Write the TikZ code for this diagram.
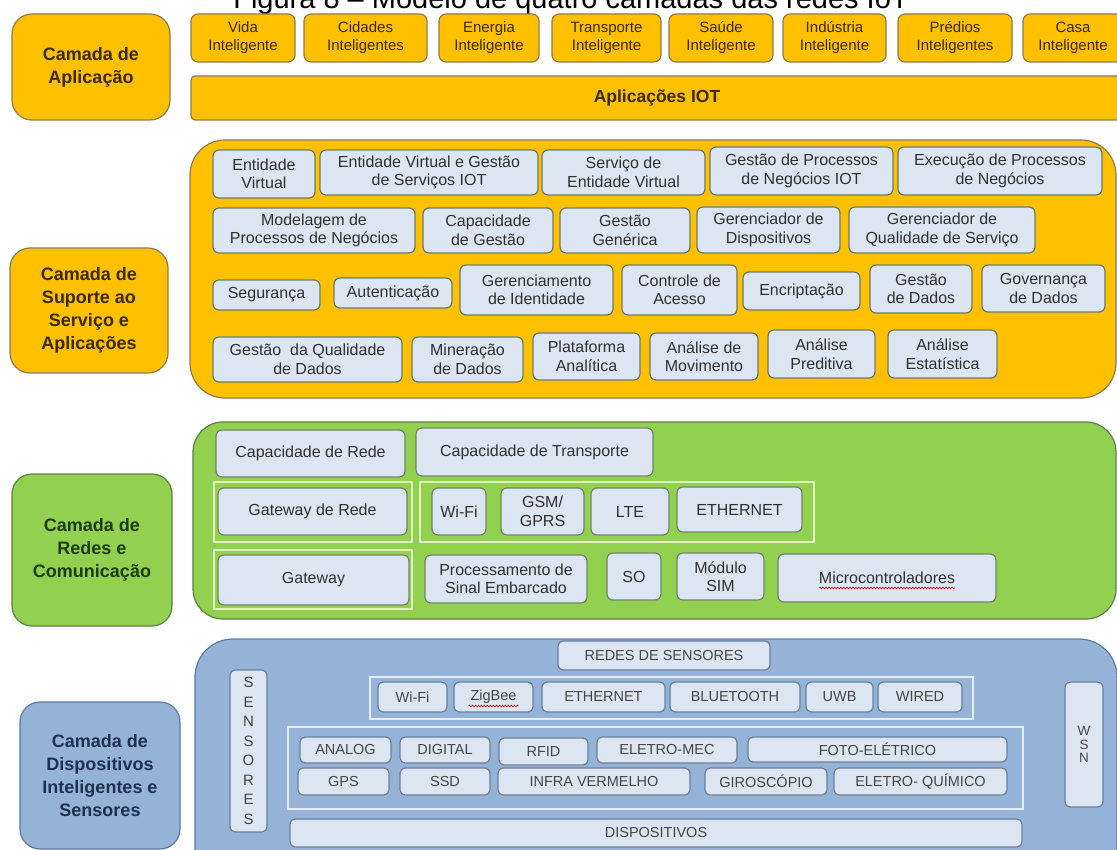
\documentclass[tikz,border=0pt]{standalone}
\usepackage{fontspec}
\setmainfont{Liberation Sans}
\usetikzlibrary{calc,decorations.pathmorphing}
\definecolor{orangeF}{HTML}{FFC000}
\definecolor{orangeD}{HTML}{8C7B4B}
\definecolor{brownT}{HTML}{3A2A00}
\definecolor{greenF}{HTML}{92D050}
\definecolor{greenD}{HTML}{5D7F45}
\definecolor{greenT}{HTML}{1F3A0F}
\definecolor{greenG}{HTML}{E4F2C0}
\definecolor{blueF}{HTML}{95B3D7}
\definecolor{blueD}{HTML}{5B7BA3}
\definecolor{blueT}{HTML}{1F3050}
\definecolor{blueG}{HTML}{E3ECF7}
\definecolor{itemF}{HTML}{DCE6F2}
\definecolor{itemD}{HTML}{6A7A6A}
\definecolor{itemB}{HTML}{6A7F99}
\definecolor{textD}{HTML}{303030}
\definecolor{textG}{HTML}{454545}
\newcommand\mkbox[7]{%
  \node[#1, minimum width={#5-#3}, minimum height={#6-#4}] (#2) at ({(#3+#5)/2},{(#4+#6)/2}) {#7};}
\tikzset{
  basebox/.style={draw, align=center, inner sep=0pt, line width=1.2pt, rectangle},
  lbl/.style={basebox, rounded corners=20pt, font=\fontsize{18}{23}\selectfont\bfseries},
  applbl/.style={lbl, fill=orangeF, draw=orangeD, text=brownT},
  netlbl/.style={lbl, fill=greenF, draw=greenD, text=greenT},
  devlbl/.style={lbl, fill=blueF, draw=blueD, text=blueT},
  appitem/.style={basebox, fill=orangeF, draw=orangeD, rounded corners=7pt, font=\fontsize{15}{18}\selectfont, text=brownT},
  sitem/.style={basebox, fill=itemF, draw=itemD, rounded corners=6pt, font=\fontsize{16}{18.5}\selectfont, text=textD},
  nitem/.style={sitem, draw=greenD!60!black!70},
  ditem/.style={basebox, fill=itemF, draw=itemB, rounded corners=5pt, font=\fontsize{14.5}{17}\selectfont, text=textG},
  ngroup/.style={basebox, draw=greenG, line width=1.6pt},
  dgroup/.style={basebox, draw=blueG, line width=1.6pt},
  squig/.style={red!85!black, line width=0.6pt, decorate, decoration={snake, amplitude=0.9pt, segment length=3pt}}
}
\begin{document}
\begin{tikzpicture}[x=1pt,y=-1pt]
\useasboundingbox (0,0) rectangle (1117,850);
\clip (0,0) rectangle (1117,850);
\fill[white] (0,0) rectangle (1117,850);
% title (cut at top)
\node[anchor=base, inner sep=0pt, font=\fontsize{29}{34}\selectfont] (title) at (571,8.5) {Figura 8 – Modelo de quatro camadas das redes IoT};
% layer labels
\mkbox{applbl}{appL}{12}{14}{170}{120}{Camada de\\Aplicação}
\mkbox{applbl}{supL}{10}{248}{168}{373}{Camada de\\Suporte ao\\Serviço e\\Aplicações}
\mkbox{netlbl}{netL}{12}{474}{172}{626}{Camada de\\Redes e\\Comunicação}
\mkbox{devlbl}{devL}{20}{702}{180}{849}{Camada de\\Dispositivos\\Inteligentes e\\Sensores}
% application layer
\mkbox{appitem}{a1}{191}{14}{295}{62}{Vida\\Inteligente}
\mkbox{appitem}{a2}{304}{14}{427}{62}{Cidades\\Inteligentes}
\mkbox{appitem}{a3}{439}{14}{539}{62}{Energia\\Inteligente}
\mkbox{appitem}{a4}{552}{14}{661}{62}{Transporte\\Inteligente}
\mkbox{appitem}{a5}{669}{14}{773}{62}{Saúde\\Inteligente}
\mkbox{appitem}{a6}{783}{14}{886}{62}{Indústria\\Inteligente}
\mkbox{appitem}{a7}{898}{14}{1012}{62}{Prédios\\Inteligentes}
\mkbox{appitem}{a8}{1023}{14}{1123}{62}{Casa\\Inteligente}
\mkbox{appitem, rounded corners=4pt, font=\fontsize{17.5}{20}\selectfont\bfseries}{aiot}{191}{76}{1123}{120}{Aplicações IOT}
% support layer
\mkbox{basebox, fill=orangeF, draw=orangeD, rounded corners=35pt}{supB}{190}{140}{1116}{398}{}
\mkbox{sitem}{s1}{213}{150}{315}{198}{Entidade\\Virtual}
\mkbox{sitem}{s2}{320}{150}{538}{195}{Entidade Virtual e Gestão\\de Serviços IOT}
\mkbox{sitem}{s3}{542}{150}{705}{195}{Serviço de\\Entidade Virtual}
\mkbox{sitem}{s4}{710}{147}{893}{195}{Gestão de Processos\\de Negócios IOT}
\mkbox{sitem}{s5}{898}{147}{1102}{195}{Execução de Processos\\de Negócios}
\mkbox{sitem}{s6}{213}{208}{415}{253}{Modelagem de\\Processos de Negócios}
\mkbox{sitem}{s7}{423}{208}{553}{253}{Capacidade\\de Gestão}
\mkbox{sitem}{s8}{560}{208}{690}{253}{Gestão\\Genérica}
\mkbox{sitem}{s9}{697}{207}{840}{253}{Gerenciador de\\Dispositivos}
\mkbox{sitem}{s10}{849}{207}{1035}{253}{Gerenciador de\\Qualidade de Serviço}
\mkbox{sitem}{s11}{213}{280}{320}{310}{Segurança}
\mkbox{sitem}{s12}{334}{278}{452}{308}{Autenticação}
\mkbox{sitem}{s13}{460}{265}{613}{315}{Gerenciamento\\de Identidade}
\mkbox{sitem}{s14}{622}{265}{737}{315}{Controle de\\Acesso}
\mkbox{sitem}{s15}{743}{272}{860}{310}{Encriptação}
\mkbox{sitem}{s16}{870}{265}{972}{313}{Gestão\\de Dados}
\mkbox{sitem}{s17}{982}{265}{1105}{312}{Governança\\de Dados}
\mkbox{sitem}{s18}{213}{337}{402}{382}{Gestão\ \ da Qualidade\\de Dados}
\mkbox{sitem}{s19}{412}{337}{523}{382}{Mineração\\de Dados}
\mkbox{sitem}{s20}{533}{333}{640}{380}{Plataforma\\Analítica}
\mkbox{sitem}{s21}{650}{333}{758}{380}{Análise de\\Movimento}
\mkbox{sitem}{s22}{768}{330}{875}{378}{Análise\\Preditiva}
\mkbox{sitem}{s23}{888}{330}{997}{378}{Análise\\Estatística}
% network layer
\mkbox{basebox, fill=greenF, draw=greenD, rounded corners=30pt}{netB}{193}{422}{1116}{619}{}
\mkbox{nitem}{n1}{216}{430}{405}{477}{Capacidade de Rede}
\mkbox{nitem}{n2}{416}{428}{653}{476}{Capacidade de Transporte}
\mkbox{ngroup}{g1}{214}{482}{412}{542}{}
\mkbox{ngroup}{g2}{420}{482}{814}{542}{}
\mkbox{ngroup}{g3}{214}{550}{412}{609}{}
\mkbox{nitem}{n3}{218}{488}{407}{535}{Gateway de Rede}
\mkbox{nitem}{n4}{432}{488}{486}{535}{Wi-Fi}
\mkbox{nitem}{n5}{501}{488}{584}{535}{GSM/\\GPRS}
\mkbox{nitem}{n6}{591}{488}{669}{535}{LTE}
\mkbox{nitem}{n7}{677}{487}{802}{532}{ETHERNET}
\mkbox{nitem}{n8}{218}{555}{409}{605}{Gateway}
\mkbox{nitem}{n9}{425}{555}{587}{603}{Processamento de\\Sinal Embarcado}
\mkbox{nitem}{n10}{607}{553}{661}{600}{SO}
\mkbox{nitem}{n11}{677}{553}{764}{600}{Módulo\\SIM}
\mkbox{nitem}{n12}{778}{554}{996}{602}{Microcontroladores}
\draw[squig] ($(n12.center)+(-68,10)$) -- ($(n12.center)+(68,10)$);
% device layer
\mkbox{basebox, fill=blueF, draw=blueD, rounded corners=38pt}{devB}{195}{639}{1117}{890}{}
\mkbox{ditem}{d0}{558}{641}{770}{670}{REDES DE SENSORES}
\mkbox{dgroup}{dg1}{370}{677}{973}{719}{}
\mkbox{dgroup}{dg2}{288}{727}{1023}{809}{}
\mkbox{ditem}{d1}{378}{682}{447}{712}{Wi-Fi}
\mkbox{ditem}{d2}{454}{682}{533}{712}{ZigBee}
\mkbox{ditem}{d3}{542}{682}{665}{712}{ETHERNET}
\mkbox{ditem}{d4}{670}{682}{800}{712}{BLUETOOTH}
\mkbox{ditem}{d5}{806}{682}{873}{712}{UWB}
\mkbox{ditem}{d6}{878}{682}{962}{712}{WIRED}
\draw[squig] ($(d2.center)+(-25,9)$) -- ($(d2.center)+(25,9)$);
\mkbox{ditem}{d7}{300}{737}{391}{763}{ANALOG}
\mkbox{ditem}{d8}{400}{737}{490}{763}{DIGITAL}
\mkbox{ditem}{d9}{499}{738}{588}{765}{RFID}
\mkbox{ditem}{d10}{597}{737}{737}{763}{ELETRO-MEC}
\mkbox{ditem}{d11}{748}{737}{1007}{762}{FOTO-ELÉTRICO}
\mkbox{ditem}{d12}{298}{768}{389}{795}{GPS}
\mkbox{ditem}{d13}{400}{768}{490}{795}{SSD}
\mkbox{ditem}{d14}{498}{768}{690}{795}{INFRA VERMELHO}
\mkbox{ditem}{d15}{705}{768}{827}{795}{GIROSCÓPIO}
\mkbox{ditem}{d16}{834}{768}{1007}{795}{ELETRO- QUÍMICO}
\mkbox{ditem}{d17}{290}{819}{1022}{847}{DISPOSITIVOS}
\mkbox{ditem, font=\fontsize{15}{19.5}\selectfont}{sens}{230}{670}{267}{832}{S\\E\\N\\S\\O\\R\\E\\S}
\mkbox{ditem, font=\fontsize{13.5}{13.5}\selectfont}{wsn}{1065}{682}{1103}{807}{W\\S\\N}
\end{tikzpicture}
\end{document}
